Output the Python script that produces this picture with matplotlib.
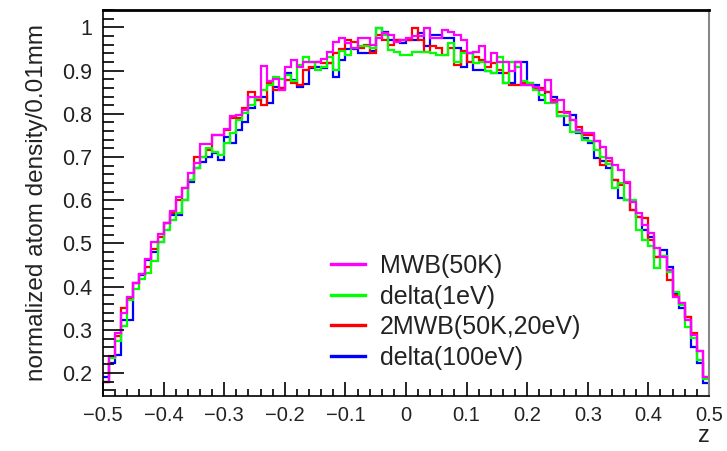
import numpy as np
import matplotlib
matplotlib.use("Agg")
import matplotlib.pyplot as plt
from matplotlib.lines import Line2D
from matplotlib.ticker import MultipleLocator

plt.rcParams['font.family'] = ['Liberation Sans', 'DejaVu Sans']

# 100 bins of 0.01 between -0.5 and 0.5
z_edges = np.linspace(-0.5, 0.5, 101)

mwb_50k = [
    0.180, 0.240, 0.292, 0.338, 0.375, 0.409, 0.429, 0.463, 0.504, 0.522,
    0.547, 0.576, 0.607, 0.628, 0.663, 0.686, 0.730, 0.730, 0.751, 0.751,
    0.764, 0.794, 0.797, 0.809, 0.838, 0.838, 0.911, 0.875, 0.880, 0.855,
    0.909, 0.925, 0.909, 0.921, 0.919, 0.919, 0.926, 0.944, 0.967, 0.975,
    0.963, 0.952, 0.975, 0.975, 0.960, 0.975, 0.986, 0.983, 0.967, 0.971,
    0.975, 0.981, 0.981, 0.998, 0.975, 0.975, 0.994, 0.990, 0.983, 0.970,
    0.940, 0.944, 0.956, 0.921, 0.940, 0.921, 0.921, 0.898, 0.921, 0.867,
    0.867, 0.863, 0.855, 0.878, 0.828, 0.832, 0.801, 0.786, 0.763, 0.755,
    0.755, 0.736, 0.724, 0.697, 0.682, 0.670, 0.643, 0.597, 0.570, 0.543,
    0.524, 0.489, 0.469, 0.439, 0.377, 0.362, 0.323, 0.288, 0.250, 0.192,
]

delta_1ev = [
    0.180, 0.236, 0.275, 0.310, 0.368, 0.394, 0.418, 0.432, 0.459, 0.504,
    0.532, 0.555, 0.571, 0.601, 0.647, 0.674, 0.700, 0.720, 0.712, 0.705,
    0.732, 0.755, 0.786, 0.801, 0.821, 0.836, 0.855, 0.867, 0.886, 0.880,
    0.890, 0.875, 0.913, 0.932, 0.921, 0.902, 0.909, 0.932, 0.902, 0.945,
    0.936, 0.952, 0.956, 0.956, 0.952, 0.998, 0.983, 0.948, 0.944, 0.936,
    0.936, 0.944, 0.944, 0.944, 0.940, 0.936, 0.936, 0.965, 0.921, 0.940,
    0.940, 0.917, 0.921, 0.898, 0.894, 0.932, 0.871, 0.921, 0.909, 0.875,
    0.871, 0.855, 0.844, 0.825, 0.825, 0.794, 0.794, 0.759, 0.759, 0.740,
    0.736, 0.716, 0.701, 0.683, 0.628, 0.639, 0.601, 0.600, 0.531, 0.508,
    0.493, 0.443, 0.470, 0.435, 0.388, 0.358, 0.307, 0.281, 0.230, 0.186,
]

mwb2_50k_20ev = [
    0.180, 0.238, 0.285, 0.350, 0.373, 0.409, 0.429, 0.446, 0.488, 0.515,
    0.547, 0.571, 0.601, 0.628, 0.647, 0.700, 0.700, 0.716, 0.751, 0.751,
    0.763, 0.790, 0.790, 0.813, 0.851, 0.832, 0.821, 0.871, 0.855, 0.859,
    0.878, 0.871, 0.867, 0.902, 0.909, 0.921, 0.917, 0.917, 0.940, 0.950,
    0.971, 0.967, 0.952, 0.960, 0.940, 0.983, 0.971, 0.960, 0.971, 0.971,
    0.971, 0.998, 0.971, 0.944, 0.956, 0.952, 0.936, 0.952, 0.913, 0.945,
    0.921, 0.932, 0.925, 0.909, 0.917, 0.902, 0.894, 0.867, 0.867, 0.871,
    0.871, 0.859, 0.859, 0.851, 0.832, 0.805, 0.805, 0.786, 0.770, 0.751,
    0.751, 0.736, 0.682, 0.690, 0.647, 0.635, 0.640, 0.578, 0.562, 0.560,
    0.508, 0.469, 0.470, 0.416, 0.380, 0.362, 0.330, 0.292, 0.250, 0.192,
]

delta_100ev = [
    0.192, 0.223, 0.242, 0.323, 0.323, 0.409, 0.427, 0.462, 0.481, 0.504,
    0.547, 0.566, 0.566, 0.601, 0.643, 0.674, 0.689, 0.700, 0.710, 0.692,
    0.747, 0.732, 0.763, 0.782, 0.813, 0.832, 0.840, 0.825, 0.863, 0.859,
    0.894, 0.878, 0.863, 0.870, 0.906, 0.909, 0.906, 0.917, 0.886, 0.925,
    0.950, 0.950, 0.940, 0.940, 0.945, 0.998, 0.990, 0.971, 0.971, 0.965,
    0.971, 0.971, 0.986, 0.956, 0.983, 0.983, 0.975, 0.975, 0.952, 0.909,
    0.940, 0.902, 0.902, 0.898, 0.894, 0.894, 0.871, 0.871, 0.921, 0.921,
    0.867, 0.867, 0.832, 0.851, 0.840, 0.794, 0.774, 0.797, 0.755, 0.743,
    0.732, 0.697, 0.690, 0.674, 0.647, 0.605, 0.601, 0.578, 0.562, 0.531,
    0.516, 0.469, 0.485, 0.446, 0.385, 0.350, 0.330, 0.261, 0.223, 0.176,
]

labels = ['MWB(50K)', 'delta(1eV)', '2MWB(50K,20eV)', 'delta(100eV)']
colors = ['#ff00ff', '#00ff00', '#ff0000', '#0000ff']
series = [mwb_50k, delta_1ev, mwb2_50k_20ev, delta_100ev]

fig = plt.figure(figsize=(7.27, 4.51), dpi=100)
ax = fig.add_axes([0.1417, 0.122, 0.8335, 0.856])

# draw back to front: blue, red, green, magenta
for vals, col in reversed(list(zip(series, colors))):
    ax.stairs(vals, z_edges, baseline=None, color=col, lw=1.6)

ax.set_xlim(-0.5, 0.5)
ax.set_ylim(0.147, 1.0405)

ax.xaxis.set_minor_locator(MultipleLocator(0.02))
ax.yaxis.set_minor_locator(MultipleLocator(0.02))
ax.set_yticks(np.arange(0.2, 1.01, 0.1))
ax.set_yticklabels(['0.2', '0.3', '0.4', '0.5', '0.6', '0.7', '0.8', '0.9', '1'])
ax.set_xticks(np.arange(-0.5, 0.51, 0.1))
ax.set_xticklabels(['\u22120.5', '\u22120.4', '\u22120.3', '\u22120.2', '\u22120.1', '0',
                    '0.1', '0.2', '0.3', '0.4', '0.5'])

ax.tick_params(axis='x', which='major', direction='in', length=10, width=1.2,
               labelsize=14.5, pad=7, top=False, labelcolor='#222222')
ax.tick_params(axis='x', which='minor', direction='in', length=5, width=1.2, top=False)
ax.tick_params(axis='y', which='major', direction='in', length=15, width=1.2,
               labelsize=15.5, pad=8, right=False, labelcolor='#222222')
ax.tick_params(axis='y', which='minor', direction='in', length=8, width=1.2, right=False)

for side in ['left', 'bottom']:
    ax.spines[side].set_linewidth(1.2)
ax.spines['top'].set_linewidth(2.0)
ax.spines['right'].set_color('#888888')
ax.spines['right'].set_linewidth(1.5)

ax.set_ylabel('normalized atom density/0.01mm', fontsize=17.5, labelpad=10,
              color='#222222')
fig.text(0.968, 0.008, 'z', fontsize=17, ha='center', va='bottom', color='#222222')

handles = [Line2D([0], [0], color=c, lw=2.4) for c in colors]
ax.legend(handles, labels, loc='upper left', bbox_to_anchor=(0.356, 0.40),
          frameon=False, fontsize=18, handlelength=1.35, handletextpad=0.6,
          labelspacing=0.26, borderpad=0, labelcolor='#222222')

fig.savefig('out.png', dpi=100)
